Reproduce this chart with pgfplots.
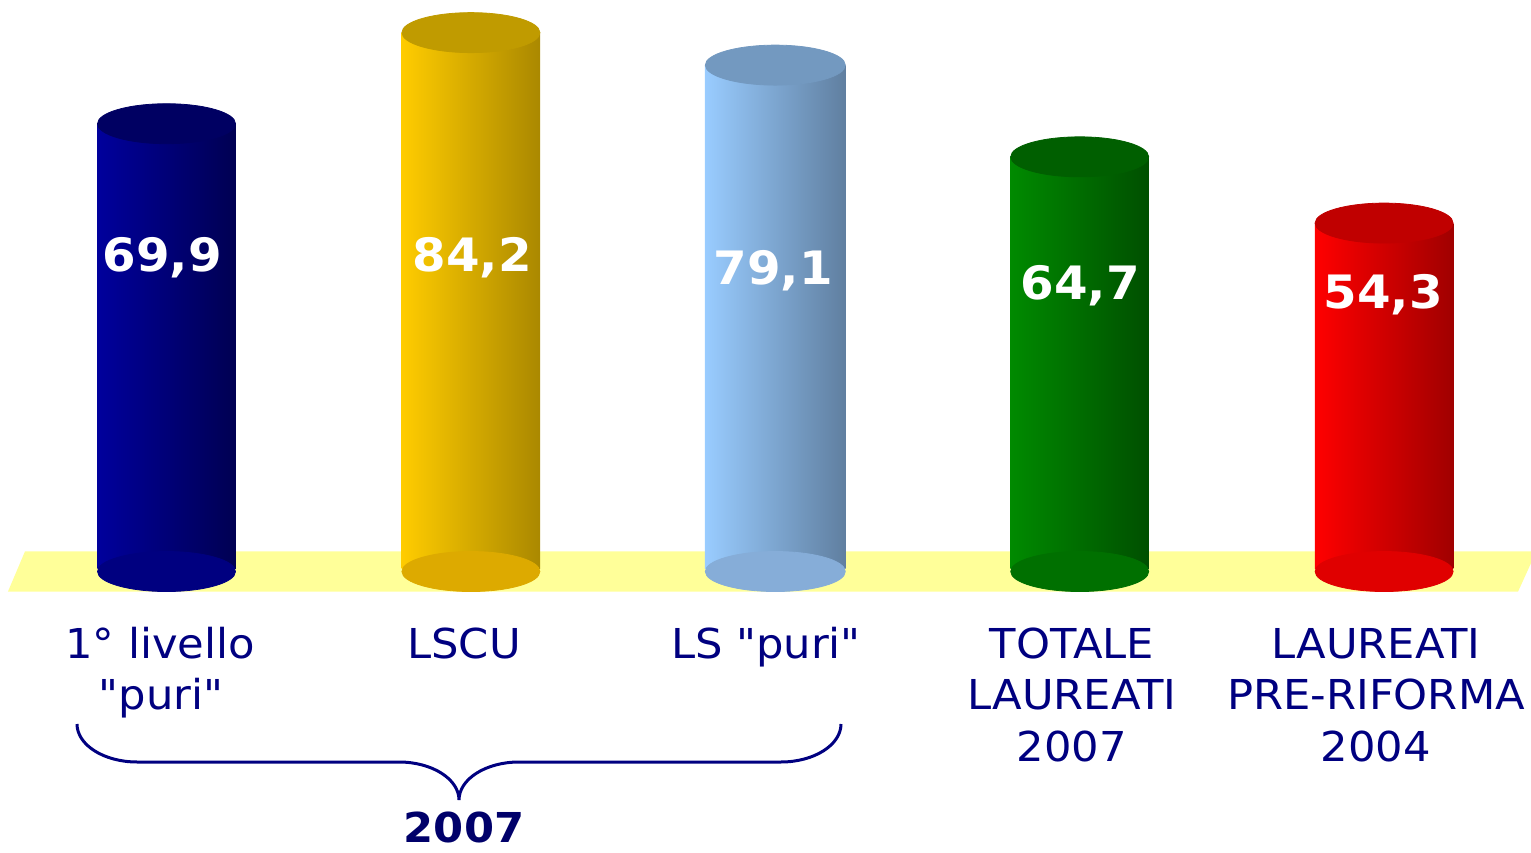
\documentclass[border=0pt]{standalone}
\usepackage{pgfplots}
\pgfplotsset{compat=1.18}
\usepackage{fontspec}
\setmainfont{DejaVu Sans}[FakeStretch=1.05]
\newfontfamily\labfont{DejaVu Sans}[FakeStretch=1.05]
\definecolor{navy}{HTML}{000080}
\definecolor{navyd}{HTML}{00006A}
\definecolor{floor}{HTML}{FFFF99}
% bar 1
\definecolor{aL}{HTML}{00009C}\definecolor{aM}{HTML}{000080}\definecolor{aR}{HTML}{000052}\definecolor{aT}{HTML}{000062}
% bar 2
\definecolor{bL}{HTML}{FFCC00}\definecolor{bM}{HTML}{DDAA00}\definecolor{bR}{HTML}{AA8800}\definecolor{bT}{HTML}{C09B00}
% bar 3
\definecolor{cL}{HTML}{99CCFF}\definecolor{cM}{HTML}{86ADD8}\definecolor{cR}{HTML}{607FA0}\definecolor{cT}{HTML}{7399C0}
% bar 4
\definecolor{dL}{HTML}{008A00}\definecolor{dM}{HTML}{007000}\definecolor{dR}{HTML}{004F00}\definecolor{dT}{HTML}{005F00}
% bar 5
\definecolor{eL}{HTML}{FF0000}\definecolor{eM}{HTML}{E00000}\definecolor{eR}{HTML}{A00000}\definecolor{eT}{HTML}{C00000}
\begin{document}
\begin{tikzpicture}
\begin{axis}[
  scale only axis, width=765.5pt, height=426pt,
  xmin=-0.547, xmax=4.4826, ymin=-44.43, ymax=89.32,
  hide axis, clip=false,
]
% floor band
\addplot[fill=floor, draw=none] coordinates {(-0.521,-3.56) (-0.465,2.75) (4.50,2.75) (4.44,-3.56)} -- cycle;
% bottom ellipses
\addplot[only marks, mark=*, mark size=10pt, mark options={xscale=3.45, fill=aM, draw=aM}] coordinates {(0,-0.4)};
\addplot[only marks, mark=*, mark size=10pt, mark options={xscale=3.45, fill=bM, draw=bM}] coordinates {(1,-0.4)};
\addplot[only marks, mark=*, mark size=10pt, mark options={xscale=3.50, fill=cM, draw=cM}] coordinates {(2,-0.4)};
\addplot[only marks, mark=*, mark size=10pt, mark options={xscale=3.45, fill=dM, draw=dM}] coordinates {(3,-0.4)};
\addplot[only marks, mark=*, mark size=10pt, mark options={xscale=3.45, fill=eM, draw=eM}] coordinates {(4,-0.4)};
% bodies
\addplot[ybar, bar width=0.455, bar shift=0pt, draw=none, left color=aL, middle color=aM, right color=aR] coordinates {(0,69.9)};
\addplot[ybar, bar width=0.455, bar shift=0pt, draw=none, left color=bL, middle color=bM, right color=bR] coordinates {(1,84.2)};
\addplot[ybar, bar width=0.462, bar shift=0pt, draw=none, left color=cL, middle color=cM, right color=cR] coordinates {(2,79.1)};
\addplot[ybar, bar width=0.455, bar shift=0pt, draw=none, left color=dL, middle color=dM, right color=dR] coordinates {(3,64.7)};
\addplot[ybar, bar width=0.455, bar shift=0pt, draw=none, left color=eL, middle color=eM, right color=eR] coordinates {(4,54.3)};
% top ellipses
\addplot[only marks, mark=*, mark size=10pt, mark options={xscale=3.45, fill=aT, draw=aT}] coordinates {(0,69.9)};
\addplot[only marks, mark=*, mark size=10pt, mark options={xscale=3.45, fill=bT, draw=bT}] coordinates {(1,84.2)};
\addplot[only marks, mark=*, mark size=10pt, mark options={xscale=3.50, fill=cT, draw=cT}] coordinates {(2,79.1)};
\addplot[only marks, mark=*, mark size=10pt, mark options={xscale=3.45, fill=dT, draw=dT}] coordinates {(3,64.7)};
\addplot[only marks, mark=*, mark size=10pt, mark options={xscale=3.45, fill=eT, draw=eT}] coordinates {(4,54.3)};
\end{axis}
\begin{scope}[x=0.5pt, y=-0.5pt, shift={(0,426pt)}]
  \tikzset{vl/.style={anchor=base, inner sep=0pt, text=white, font=\labfont\fontsize{23}{28}\selectfont\bfseries},
           cl/.style={anchor=base, inner sep=0pt, text=navy, font=\labfont\fontsize{20.6}{25}\selectfont}}
  \node[vl] at (162,272) {69,9};
  \node[vl] at (472,272) {84,2};
  \node[vl] at (773,285) {79,1};
  \node[vl] at (1080,300) {64,7};
  \node[vl] at (1383,309) {54,3};
  \node[cl] at (160,658) {1° livello};
  \node[cl] at (161,709) {"puri"};
  \node[cl] at (464,658) {LSCU};
  \node[cl] at (766,658) {LS "puri"};
  \node[cl] at (1072,658) {TOTALE};
  \node[cl] at (1072,709) {LAUREATI};
  \node[cl] at (1072,761) {2007};
  \node[cl] at (1376,658) {LAUREATI};
  \node[cl] at (1376,709) {PRE-RIFORMA};
  \node[cl] at (1376,761) {2004};
  \draw[navy, line width=1.5pt] (77,724) .. controls (77,745) and (104,762) .. (137,762)
     -- (399,762) .. controls (432,762) and (459,779) .. (459,800)
     .. controls (459,779) and (486,762) .. (519,762)
     -- (781,762) .. controls (814,762) and (841,745) .. (841,724);
  \node[anchor=base, inner sep=0pt, text=navyd, font=\labfont\fontsize{20.6}{25}\selectfont\bfseries] at (464,842) {2007};
\end{scope}
\pgfresetboundingbox
\path (0,0) rectangle (765.5pt,426pt);
\end{tikzpicture}
\end{document}
